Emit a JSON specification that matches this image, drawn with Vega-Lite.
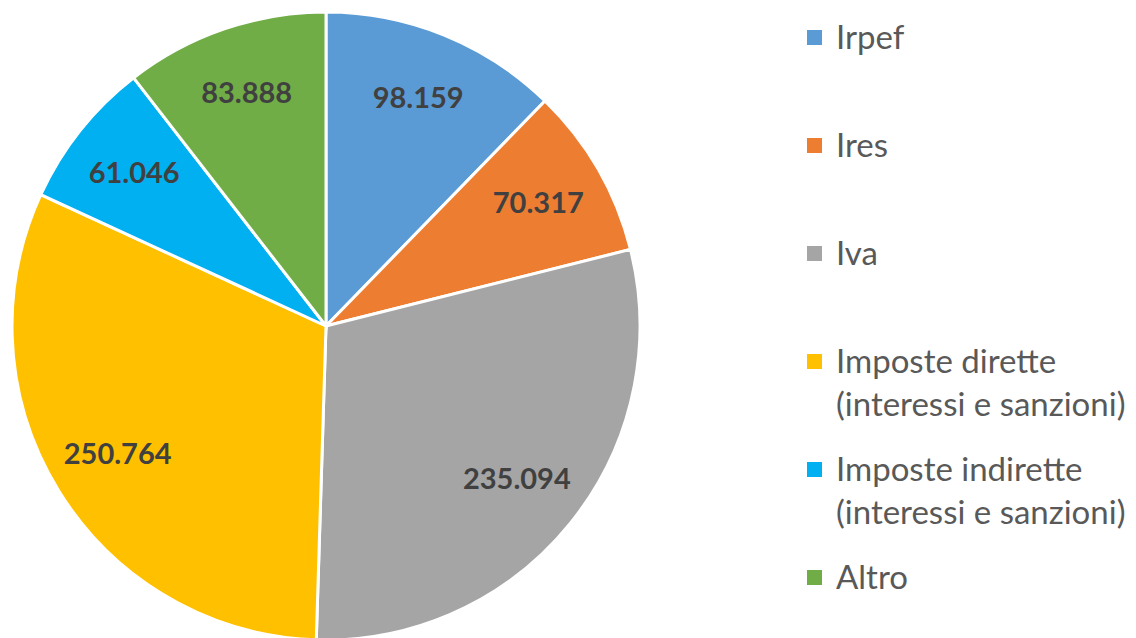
{
  "$schema": "https://vega.github.io/schema/vega-lite/v6.json",
  "width": 652,
  "height": 652,
  "padding": 0,
  "autosize": {"type": "pad"},
  "background": "white",
  "config": {
    "view": {"stroke": null},
    "locale": {"number": {"decimal": ",", "thousands": ".", "grouping": [3], "currency": ["€", ""]}},
    "style": {"guide-label": {"dy": 11, "lineHeight": 43}},
    "legend": {
      "orient": "none",
      "legendX": 798,
      "legendY": 21,
      "padding": 0,
      "title": null,
      "symbolType": "square",
      "symbolSize": 225,
      "symbolStrokeWidth": 0,
      "labelFont": "Lato",
      "labelFontSize": 33,
      "labelColor": "#595959",
      "labelLimit": 600,
      "labelOffset": 5,
      "labelBaseline": "alphabetic",
      "rowPadding": 30,
      "gridAlign": "all"
    }
  },
  "data": {
    "values": [
      {"k": 1, "categoria": "Irpef", "valore": 98159},
      {"k": 2, "categoria": "Ires", "valore": 70317},
      {"k": 3, "categoria": "Iva", "valore": 235094},
      {"k": 4, "categoria": "Imposte dirette (interessi e sanzioni)", "valore": 250764},
      {"k": 5, "categoria": "Imposte indirette (interessi e sanzioni)", "valore": 61046},
      {"k": 6, "categoria": "Altro", "valore": 83888}
    ]
  },
  "encoding": {
    "theta": {"field": "valore", "type": "quantitative", "stack": true},
    "order": {"field": "k", "type": "quantitative", "sort": "ascending"}
  },
  "layer": [
    {
      "mark": {"type": "arc", "outerRadius": 314, "stroke": "white", "strokeWidth": 3},
      "encoding": {
        "color": {
          "field": "categoria",
          "type": "nominal",
          "scale": {
            "domain": ["Irpef", "Ires", "Iva", "Imposte dirette (interessi e sanzioni)", "Imposte indirette (interessi e sanzioni)", "Altro"],
            "range": ["#5B9BD5", "#ED7D31", "#A5A5A5", "#FFC000", "#00B0F0", "#70AD47"]
          },
          "legend": {
            "labelExpr": "indexof(datum.label, ' (') > 0 ? [substring(datum.label, 0, indexof(datum.label, ' (')), substring(datum.label, indexof(datum.label, ' (') + 1)] : datum.label"
          }
        }
      }
    },
    {
      "mark": {"type": "text", "radius": 245, "font": "Lato", "fontSize": 29, "fontWeight": "bold", "color": "#404040"},
      "encoding": {
        "detail": {"field": "categoria", "type": "nominal"},
        "text": {"field": "valore", "type": "quantitative", "format": ",.0f"}
      }
    }
  ]
}
